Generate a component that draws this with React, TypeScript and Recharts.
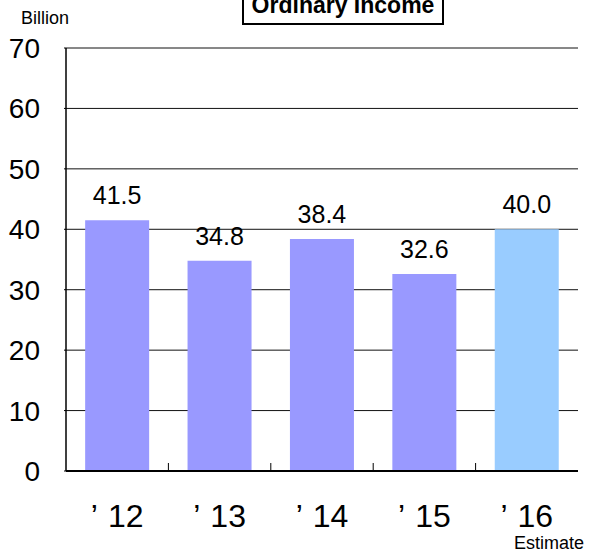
import React from 'react';
import {
  BarChart,
  Bar,
  XAxis,
  YAxis,
  CartesianGrid,
  Cell,
  LabelList,
} from 'recharts';

const years = ['12', '13', '14', '15', '16'];
const ordinaryIncome = [41.5, 34.8, 38.4, 32.6, 40.0];
const yTicks = [0, 10, 20, 30, 40, 50, 60, 70];
const estimateYear = '16';

const data = years.map((year, i) => ({ year, value: ordinaryIncome[i] }));

const FONT = '"Liberation Sans", Arial, sans-serif';

// year label, plus the small tick mark on the boundary to the right of the category
const YearTick = (props: any) => {
  const { x, y, payload, index, visibleTicksCount } = props;
  const half = payload && payload.offset ? payload.offset : 0;
  const isLast = index >= (visibleTicksCount ?? years.length) - 1;
  return (
    <g>
      {!isLast && half > 0 && (
        <line x1={x + half} x2={x + half} y1={y} y2={y - 8} stroke="#000" strokeWidth={1} />
      )}
      <text x={x} y={y + 56} textAnchor="middle" fontSize={32} fill="#000" fontFamily={FONT}>
        <tspan>’</tspan>
        <tspan dx={10}>{payload.value}</tspan>
      </text>
    </g>
  );
};

const ValueLabel = (props: any) => {
  const { x, y, width, value } = props;
  return (
    <text x={x + width / 2} y={y - 16} textAnchor="middle" fontSize={25} fill="#000" fontFamily={FONT}>
      {Number(value).toFixed(1)}
    </text>
  );
};

const App: React.FC = () => {
  return (
    <div style={{ position: 'absolute', left: 0, top: 0, width: 590, height: 553, background: '#fff', fontFamily: FONT }}>
      <BarChart
        width={590}
        height={553}
        data={data}
        margin={{ top: 48, right: 12, bottom: 0, left: 0 }}
        barCategoryGap="18.7%"
      >
        <CartesianGrid horizontal vertical={false} stroke="#111" strokeWidth={1} />
        <XAxis
          dataKey="year"
          tick={<YearTick />}
          tickLine={false}
          tickSize={0}
          tickMargin={0}
          axisLine={{ stroke: '#000', strokeWidth: 2 }}
          height={82}
          interval={0}
        />
        <YAxis
          domain={[0, 70]}
          ticks={yTicks}
          width={66}
          tickSize={2}
          tickMargin={24}
          tick={{ fontSize: 28, fill: '#000', fontFamily: FONT }}
          tickLine={{ stroke: '#000' }}
          axisLine={{ stroke: '#000', strokeWidth: 1.5 }}
          interval={0}
        />
        <YAxis
          yAxisId="frame"
          orientation="right"
          width={0}
          domain={[0, 70]}
          tick={false}
          tickLine={false}
          axisLine={{ stroke: '#000', strokeWidth: 1 }}
        />
        <Bar dataKey="value" isAnimationActive={false}>
          {data.map((d) => (
            <Cell key={d.year} fill={d.year === estimateYear ? '#99CCFF' : '#9999FF'} />
          ))}
          <LabelList dataKey="value" content={<ValueLabel />} />
        </Bar>
      </BarChart>
      <svg
        width={590}
        height={553}
        style={{ position: 'absolute', left: 0, top: 0, pointerEvents: 'none' }}
      >
        <rect x={243} y={-5} width={200} height={29} fill="#fff" stroke="#000" strokeWidth={2} />
        <text x={343} y={13} textAnchor="middle" fontSize={23} fontWeight="bold" fill="#000" fontFamily={FONT}>
          Ordinary Income
        </text>
        <text x={21} y={24} fontSize={18} fill="#000" fontFamily={FONT}>
          Billion
        </text>
        <text x={584} y={549} textAnchor="end" fontSize={18} fill="#000" fontFamily={FONT}>
          Estimate
        </text>
      </svg>
    </div>
  );
};

export default App;
